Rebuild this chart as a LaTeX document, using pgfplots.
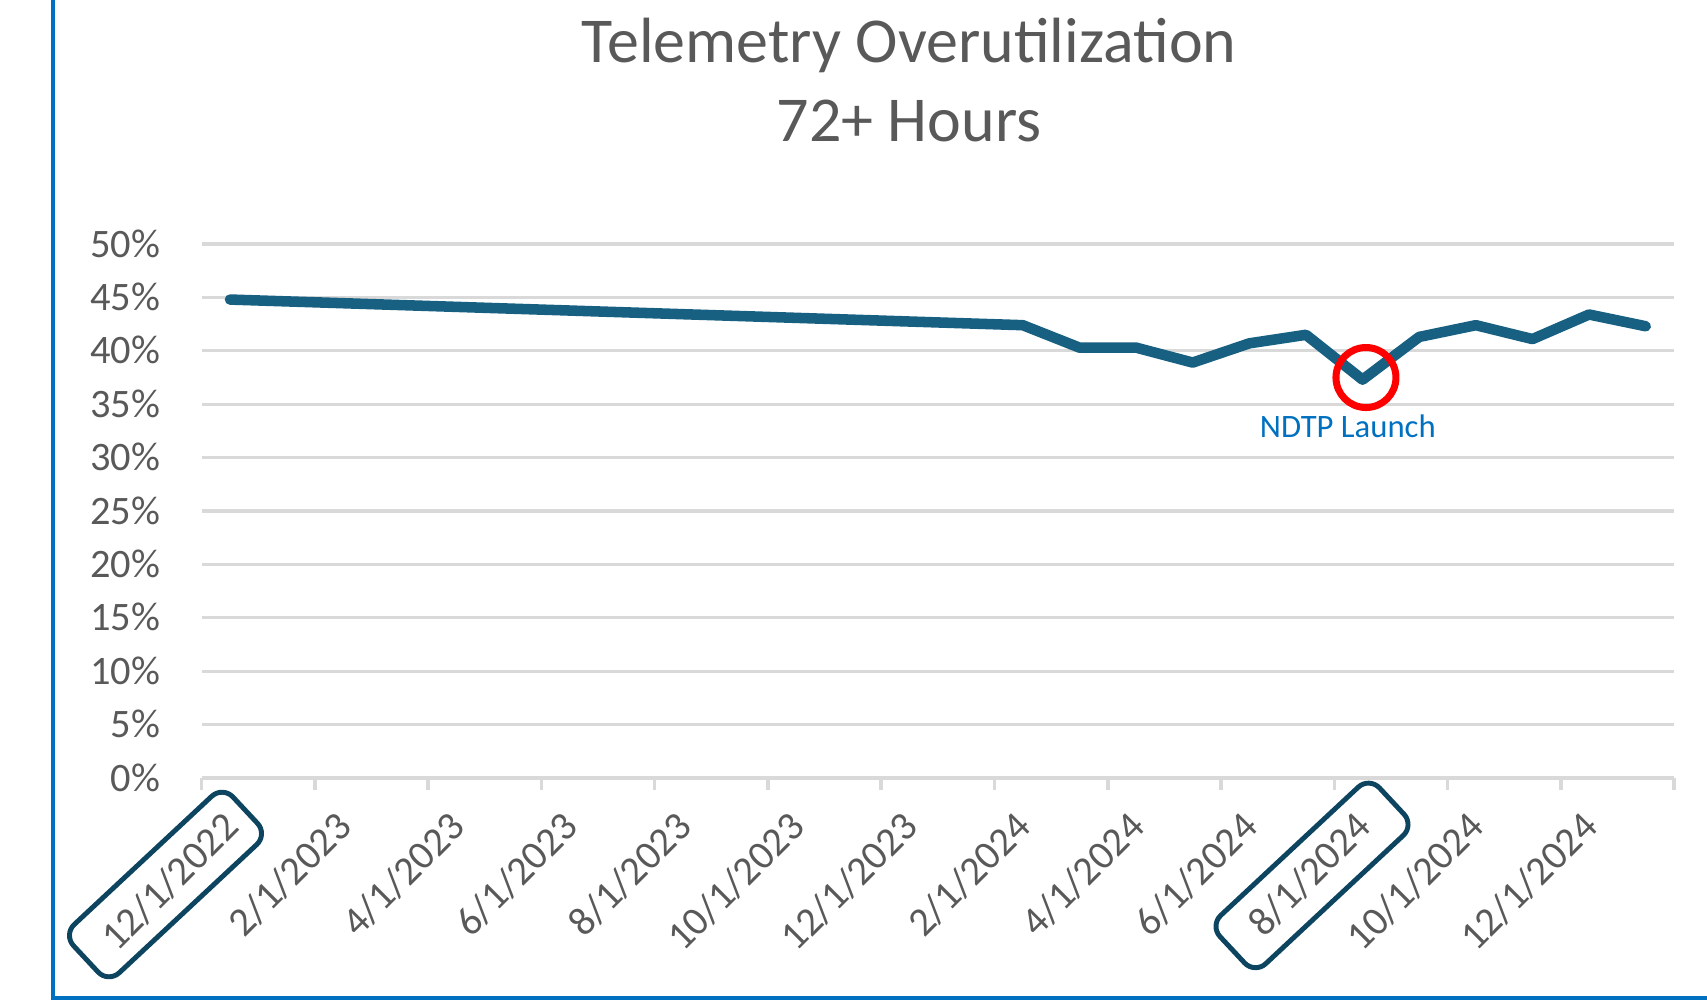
\documentclass[border=0pt]{standalone}
\usepackage{fontspec}
\setmainfont{Carlito}
\usepackage{pgfplots}
\pgfplotsset{compat=1.18}
\definecolor{linecol}{RGB}{23,96,130}
\definecolor{boxcol}{RGB}{13,68,96}
\definecolor{gridcol}{RGB}{217,217,217}
\definecolor{txtcol}{RGB}{89,89,89}
\definecolor{framecol}{RGB}{0,112,192}
\definecolor{ndtp}{RGB}{0,112,192}
\begin{document}
\begin{tikzpicture}
\useasboundingbox (0,0) rectangle (17.07,10.01);
\begin{axis}[
 at={(2.017cm,2.23cm)}, anchor=south west, scale only axis,
 width=14.723cm, height=5.34cm,
 xmin=0, xmax=26, ymin=0, ymax=50,
 axis line style={draw=none},
 ytick={0,5,...,50},
 yticklabels={0\%,5\%,10\%,15\%,20\%,25\%,30\%,35\%,40\%,45\%,50\%},
 xtick={0.5,2.5,...,24.5},
 xticklabels={12/1/2022,2/1/2023,4/1/2023,6/1/2023,8/1/2023,10/1/2023,12/1/2023,2/1/2024,4/1/2024,6/1/2024,8/1/2024,10/1/2024,12/1/2024},
 minor xtick={0,2,...,26},
 major tick length=0pt,
 minor tick length=0.12cm,
 tick align=outside,
 tick pos=left,
 minor tick style={draw=gridcol, line width=1pt},
 major tick style={draw=none},
 ymajorgrids, grid style={draw=gridcol, line width=0.9pt},
 tick label style={font=\fontsize{11.5}{13.8}\selectfont, text=txtcol, inner sep=0pt},
 yticklabel style={anchor=base east, xshift=-0.41cm, yshift=-3.7pt},
 xticklabel style={xshift=0.11cm, yshift=-0.51cm, rotate=45, anchor=base east},
 clip=false,
]
\addplot[linecol, line width=3pt, line join=round, line cap=round, mark=none] coordinates {
 (0.5,44.8) (14.5,42.4) (15.5,40.3) (16.5,40.3) (17.5,38.9) (18.5,40.7) (19.5,41.5)
 (20.5,37.3) (21.5,41.3) (22.5,42.4) (23.5,41.1) (24.5,43.4) (25.5,42.3)
};
\draw[red, line width=2pt] (axis cs:20.56,37.5) circle[radius=0.30cm];
\node[anchor=base, text=ndtp, font=\fontsize{9.3}{11}\selectfont, inner sep=0pt] at (axis cs:20.24,31.84) {NDTP Launch};
\end{axis}
\node[anchor=base, font=\fontsize{18.2}{22}\selectfont, text=txtcol] at (9.09,9.38) {Telemetry Overutilization};
\node[anchor=base, font=\fontsize{18.2}{22}\selectfont, text=txtcol] at (9.09,8.593) {72+ Hours};
\node[draw=boxcol, line width=1.4pt, rounded corners=0.15cm, rotate=43, minimum width=2.18cm, minimum height=0.66cm, inner sep=0pt] at (1.655,1.165) {};
\node[draw=boxcol, line width=1.4pt, rounded corners=0.15cm, rotate=43, minimum width=2.18cm, minimum height=0.66cm, inner sep=0pt] at (13.12,1.256) {};
\draw[framecol, line width=0.045cm] (0.528,10.01) -- (0.528,0.03) -- (17.07,0.03);
\end{tikzpicture}
\end{document}
